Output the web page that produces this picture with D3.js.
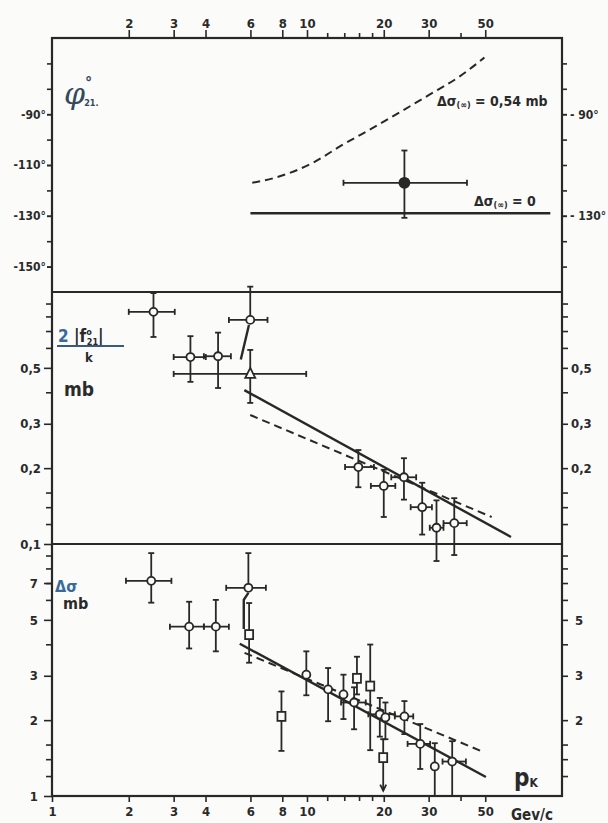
<!DOCTYPE html>
<html><head><meta charset="utf-8">
<script src="https://cdn.jsdelivr.net/npm/d3@7"></script>
<style>
html,body{margin:0;padding:0;background:#fbfbfa;}
svg{display:block;}
text{font-family:"DejaVu Sans Condensed","DejaVu Sans",sans-serif;fill:#2a2a2a;font-weight:bold;}
</style></head><body>
<svg id="c" width="608" height="823"></svg>
<script>
// ---------------- data ----------------
const xTopTicks = [2, 3, 4, 6, 8, 10, 20, 30, 50];
const xBottomTicks = [1, 2, 3, 4, 6, 8, 10, 20, 30, 50];
const xMinorTicks = [12, 14, 16, 18, 40];

const phiTicks = [-150, -130, -110, -90];
const phiRightTicks = [-130, -90];
const phiMinorTicks = [-150, -140, -130, -120, -110, -100, -90, -80, -70];

const midLeftTicks = [0.1, 0.2, 0.3, 0.5];
const midRightTicks = [0.2, 0.3, 0.5];
const midMinorTicks = [0.12, 0.14, 0.16, 0.4, 0.6, 0.7, 0.8, 0.9];

const botLeftTicks = [1, 2, 3, 5, 7];
const botRightTicks = [2, 3, 5];
const botMinorTicks = [1.2, 1.4, 1.6, 4, 6, 7, 8, 9];

// top panel: phase phi (degrees)
const phiDashedP = [6.1, 7.5, 10.6, 13.5, 18.4, 30, 39.6, 49.6];
const phiDashedV = [-117, -115, -109, -102.6, -95, -82.5, -75.2, -67.7];
const phiSolidP = [6, 90];
const phiSolidV = [-129, -129];
const phiPoints = [{p: 24.1, pLo: 13.9, pHi: 42.4, v: -117, vLo: -130.8, vHi: -104.3}];

// middle panel: 2|f21|/k (mb)
const midCircles = [
  {p: 2.50, pLo: 2.0, pHi: 3.03, v: 0.834, vLo: 0.663, vHi: 0.99},
  {p: 3.49, pLo: 3.0, pHi: 4.01, v: 0.552, vLo: 0.44, vHi: 0.668},
  {p: 4.48, pLo: 3.94, pHi: 5.03, v: 0.556, vLo: 0.416, vHi: 0.69},
  {p: 5.99, pLo: 4.94, pHi: 7.0, v: 0.775, vLo: null, vHi: 1.05},
  {p: 15.9, pLo: 14.1, pHi: 18.3, v: 0.202, vLo: 0.168, vHi: 0.236},
  {p: 20.0, pLo: 17.8, pHi: 22.2, v: 0.170, vLo: 0.128, vHi: 0.197},
  {p: 24.0, pLo: 21.4, pHi: 26.8, v: 0.184, vLo: 0.150, vHi: 0.219},
  {p: 28.3, pLo: 25.5, pHi: 30.9, v: 0.140, vLo: 0.109, vHi: 0.175},
  {p: 32.2, pLo: 30.3, pHi: 34.3, v: 0.116, vLo: 0.0856, vHi: 0.149},
  {p: 37.8, pLo: 34.3, pHi: 42.3, v: 0.121, vLo: 0.0904, vHi: 0.152}
];
const midTriangles = [{p: 5.99, pLo: 3.0, pHi: 9.93, v: 0.473, vLo: 0.363, vHi: 0.589}];
const midSolidP = [5.68, 63.1];
const midSolidV = [0.408, 0.1066];
const midDashedP = [5.99, 53.0];
const midDashedV = [0.325, 0.128];
const midSlantP = [5.92, 5.5];
const midSlantV = [0.74, 0.54];

// bottom panel: delta sigma (mb)
const botCircles = [
  {p: 2.45, pLo: 1.95, pHi: 2.94, v: 7.14, vLo: 5.85, vHi: 9.2},
  {p: 3.45, pLo: 2.90, pHi: 3.94, v: 4.70, vLo: 3.85, vHi: 5.9},
  {p: 4.39, pLo: 3.94, pHi: 4.94, v: 4.70, vLo: 3.75, vHi: 6.0},
  {p: 5.89, pLo: 4.82, pHi: 6.90, v: 6.70, vLo: null, vHi: 9.2},
  {p: 9.94, v: 3.03, vLo: 2.51, vHi: 3.75},
  {p: 12.1, v: 2.65, vLo: 1.98, vHi: 3.22},
  {p: 13.9, v: 2.53, vLo: 2.02, vHi: 3.03},
  {p: 15.3, pLo: 13.6, pHi: 17.0, v: 2.35, vLo: 1.84, vHi: 2.7},
  {p: 19.3, pLo: 17.4, pHi: 22.1, v: 2.11, vLo: 1.72, vHi: 2.45},
  {p: 20.3, v: 2.05, vLo: 1.68, vHi: 2.35},
  {p: 24.1, pLo: 22.1, pHi: 26.1, v: 2.07, vLo: 1.76, vHi: 2.38},
  {p: 27.8, pLo: 24.8, pHi: 30.4, v: 1.61, vLo: 1.28, vHi: 1.93},
  {p: 31.7, v: 1.31, vLo: 1.0, vHi: 1.62},
  {p: 37.1, pLo: 34.0, pHi: 42.0, v: 1.37, vLo: 1.0, vHi: 1.65}
];
const botSquares = [
  {p: 5.93, v: 4.37, vLo: 3.38, vHi: 5.83},
  {p: 7.94, v: 2.07, vLo: 1.51, vHi: 2.60},
  {p: 15.7, v: 2.93, vLo: 2.53, vHi: 3.57},
  {p: 17.7, v: 2.73, vLo: 1.52, vHi: 3.99},
  {p: 19.9, v: 1.42, vLo: 1.05, vHi: 1.68, arrow: true}
];
const botSolidP = [5.45, 50.3];
const botSolidV = [4.02, 1.19];
const botDashedP = [5.69, 49.6];
const botDashedV = [3.70, 1.49];
const botSlantP = [5.89, 5.65, 5.65];
const botSlantV = [6.4, 6.0, 4.6];

// ---------------- drawing ----------------
const INK = "#282828";
const BG = "#fbfbfa";
const svg = d3.select("#c");
const L = 52, R = 562, T = 38, M1 = 292, M2 = 544, B = 796;

const x = d3.scaleLog().domain([1, 100]).range([L, R]);
const yPhi = d3.scaleLinear().domain([-160, -60]).range([M1, T]);
const yMid = d3.scaleLog().domain([0.1, 1]).range([M2, M1]);
const yBot = d3.scaleLog().domain([1, 10]).range([B, M2]);

const comma = d => String(d).replace(".", ",");

function styleAxis(g, fs) {
  g.select(".domain").remove();
  g.selectAll("line").attr("stroke", INK).attr("stroke-width", 1.6);
  g.selectAll("text").attr("font-size", fs || 13).attr("fill", INK)
    .attr("font-family", '"DejaVu Sans Condensed","DejaVu Sans",sans-serif').attr("font-weight", "bold");
}

// x axes
svg.append("g").attr("transform", `translate(0,${T})`)
  .call(d3.axisTop(x).tickValues(xTopTicks).tickFormat(d3.format("d")).tickSize(8).tickPadding(2))
  .call(styleAxis, 13);
svg.append("g").attr("transform", `translate(0,${T})`)
  .call(d3.axisTop(x).tickValues(xMinorTicks).tickFormat("").tickSize(5)).call(styleAxis);
svg.append("g").attr("transform", `translate(0,${B})`)
  .call(d3.axisBottom(x).tickValues(xBottomTicks).tickFormat(d3.format("d")).tickSize(6).tickPadding(5))
  .call(styleAxis, 13);
svg.append("g").attr("transform", `translate(0,${B})`)
  .call(d3.axisBottom(x).tickValues(xMinorTicks).tickFormat("").tickSize(5)).call(styleAxis);

// y axes: top panel
svg.append("g").attr("transform", `translate(${L},0)`)
  .call(d3.axisLeft(yPhi).tickValues(phiMinorTicks).tickFormat("").tickSize(5)).call(styleAxis);
svg.append("g").attr("transform", `translate(${L},0)`)
  .call(d3.axisLeft(yPhi).tickValues(phiTicks).tickFormat(d => d + "°").tickSize(5).tickPadding(1))
  .call(styleAxis, 12);
svg.append("g").attr("transform", `translate(${R},0)`)
  .call(d3.axisRight(yPhi).tickValues(phiMinorTicks).tickFormat("").tickSize(5)).call(styleAxis);
svg.append("g").attr("transform", `translate(${R},0)`)
  .call(d3.axisRight(yPhi).tickValues(phiRightTicks).tickFormat(d => "- " + Math.abs(d) + "°").tickSize(5).tickPadding(3))
  .call(styleAxis, 12);

// middle panel
svg.append("g").attr("transform", `translate(${L},0)`)
  .call(d3.axisLeft(yMid).tickValues(midMinorTicks).tickFormat("").tickSize(6)).call(styleAxis);
svg.append("g").attr("transform", `translate(${L},0)`)
  .call(d3.axisLeft(yMid).tickValues(midLeftTicks).tickFormat(comma).tickSize(8).tickPadding(3))
  .call(styleAxis, 13);
svg.append("g").attr("transform", `translate(${R},0)`)
  .call(d3.axisRight(yMid).tickValues(midMinorTicks).tickFormat("").tickSize(6)).call(styleAxis);
svg.append("g").attr("transform", `translate(${R},0)`)
  .call(d3.axisRight(yMid).tickValues(midRightTicks).tickFormat(comma).tickSize(6).tickPadding(3))
  .call(styleAxis, 13);

// bottom panel
svg.append("g").attr("transform", `translate(${L},0)`)
  .call(d3.axisLeft(yBot).tickValues(botMinorTicks).tickFormat("").tickSize(6)).call(styleAxis);
svg.append("g").attr("transform", `translate(${L},0)`)
  .call(d3.axisLeft(yBot).tickValues(botLeftTicks).tickFormat(d3.format("d")).tickSize(8).tickPadding(6))
  .call(styleAxis, 13);
svg.append("g").attr("transform", `translate(${R},0)`)
  .call(d3.axisRight(yBot).tickValues(botMinorTicks).tickFormat("").tickSize(6)).call(styleAxis);
svg.append("g").attr("transform", `translate(${R},0)`)
  .call(d3.axisRight(yBot).tickValues(botRightTicks).tickFormat(d3.format("d")).tickSize(6).tickPadding(7))
  .call(styleAxis, 13);

// frame and dividers
svg.append("rect").attr("x", L).attr("y", T).attr("width", R - L).attr("height", B - T)
  .attr("fill", "none").attr("stroke", INK).attr("stroke-width", 2.2);
[M1, M2].forEach(yy => svg.append("line").attr("x1", L).attr("x2", R).attr("y1", yy).attr("y2", yy)
  .attr("stroke", INK).attr("stroke-width", 2.2));

// lines
function drawLine(P, V, ys, dashed, curve) {
  const gen = d3.line().x(d => x(d[0])).y(d => ys(d[1])).curve(curve || d3.curveLinear);
  svg.append("path").datum(P.map((p, i) => [p, V[i]])).attr("d", gen)
    .attr("fill", "none").attr("stroke", INK).attr("stroke-width", dashed ? 2 : 2.4)
    .attr("stroke-dasharray", dashed ? "8,5" : null);
}
drawLine(phiDashedP, phiDashedV, yPhi, true, d3.curveMonotoneX);
drawLine(phiSolidP, phiSolidV, yPhi, false);
drawLine(midSolidP, midSolidV, yMid, false);
drawLine(midDashedP, midDashedV, yMid, true);
drawLine(midSlantP, midSlantV, yMid, false);
drawLine(botSolidP, botSolidV, yBot, false);
drawLine(botDashedP, botDashedV, yBot, true);
drawLine(botSlantP, botSlantV, yBot, false);

// error bars & markers
function errorBars(data, ys) {
  const g = svg.append("g").attr("stroke", INK).attr("stroke-width", 1.8);
  data.forEach(d => {
    const cx = x(d.p), cy = ys(d.v);
    if (d.vHi != null) {
      g.append("line").attr("x1", cx).attr("x2", cx).attr("y1", cy).attr("y2", ys(d.vHi));
      g.append("line").attr("x1", cx - 3).attr("x2", cx + 3).attr("y1", ys(d.vHi)).attr("y2", ys(d.vHi));
    }
    if (d.vLo != null) {
      g.append("line").attr("x1", cx).attr("x2", cx).attr("y1", cy).attr("y2", ys(d.vLo));
      if (!d.arrow) g.append("line").attr("x1", cx - 3).attr("x2", cx + 3).attr("y1", ys(d.vLo)).attr("y2", ys(d.vLo));
      else g.append("path").attr("d", `M${cx - 3},${ys(d.vLo) - 6}L${cx},${ys(d.vLo)}L${cx + 3},${ys(d.vLo) - 6}`).attr("fill", "none");
    }
    if (d.pLo != null) {
      g.append("line").attr("x1", x(d.pLo)).attr("x2", x(d.pHi)).attr("y1", cy).attr("y2", cy);
      [d.pLo, d.pHi].forEach(pp => g.append("line").attr("x1", x(pp)).attr("x2", x(pp)).attr("y1", cy - 3).attr("y2", cy + 3));
    }
  });
}
function circles(data, ys, filled, r) {
  svg.append("g").selectAll("circle").data(data).join("circle")
    .attr("cx", d => x(d.p)).attr("cy", d => ys(d.v)).attr("r", r || 4)
    .attr("fill", filled ? INK : BG).attr("stroke", INK).attr("stroke-width", 1.8);
}
function squares(data, ys) {
  svg.append("g").selectAll("rect").data(data).join("rect")
    .attr("x", d => x(d.p) - 4).attr("y", d => ys(d.v) - 4.5).attr("width", 8).attr("height", 9)
    .attr("fill", BG).attr("stroke", INK).attr("stroke-width", 1.8);
}
function triangles(data, ys) {
  svg.append("g").selectAll("path").data(data).join("path")
    .attr("d", d => { const cx = x(d.p), cy = ys(d.v); return `M${cx},${cy - 6}L${cx + 5},${cy + 4}L${cx - 5},${cy + 4}Z`; })
    .attr("fill", BG).attr("stroke", INK).attr("stroke-width", 1.8);
}

errorBars(phiPoints, yPhi); circles(phiPoints, yPhi, true, 5);
errorBars(midTriangles, yMid); errorBars(midCircles, yMid);
triangles(midTriangles, yMid); circles(midCircles, yMid, false, 4);
errorBars(botSquares, yBot); errorBars(botCircles, yBot);
squares(botSquares, yBot); circles(botCircles, yBot, false, 4);

// ---------------- texts ----------------
const BLUE = "#34485c";
// top panel label: phi°21.
const phiLab = svg.append("text").attr("x", 64).attr("y", 104).attr("fill", BLUE);
phiLab.append("tspan").attr("font-size", 30).attr("font-style", "italic").attr("font-weight", "normal")
  .attr("font-family", "DejaVu Serif").attr("fill", BLUE).text("φ");
phiLab.append("tspan").attr("font-size", 16).attr("dy", -16).attr("fill", BLUE).text("°");
phiLab.append("tspan").attr("font-size", 9).attr("dx", -8).attr("dy", 18).attr("fill", BLUE).text("21.");

// curve labels
const lab1 = svg.append("text").attr("x", 437).attr("y", 106).attr("font-size", 14);
lab1.append("tspan").text("Δσ");
lab1.append("tspan").attr("font-size", 9).attr("dy", 2).text("(∞)");
lab1.append("tspan").attr("dy", -2).text(" = 0,54 mb");
const lab2 = svg.append("text").attr("x", 474).attr("y", 206).attr("font-size", 14);
lab2.append("tspan").text("Δσ");
lab2.append("tspan").attr("font-size", 9).attr("dy", 2).text("(∞)");
lab2.append("tspan").attr("dy", -2).text(" = 0");

// middle panel label
const f = svg.append("text").attr("x", 58).attr("y", 342).attr("font-size", 17);
f.append("tspan").attr("fill", "#3a6a9a").text("2 ");
f.append("tspan").text("|f");
f.append("tspan").attr("font-size", 9).attr("dy", -7).text("o");
f.append("tspan").attr("font-size", 9).attr("dx", -5).attr("dy", 10).text("21");
f.append("tspan").attr("dy", -3).text("|");
svg.append("line").attr("x1", 57).attr("x2", 124).attr("y1", 346).attr("y2", 346)
  .attr("stroke", "#3a5a7a").attr("stroke-width", 1.8);
svg.append("text").attr("x", 85).attr("y", 362).attr("font-size", 13).text("k");
svg.append("text").attr("x", 64).attr("y", 396).attr("font-size", 19).text("mb");

// bottom panel label (one stacked text element)
const ds = svg.append("text").attr("x", 55).attr("y", 592).attr("font-size", 16);
ds.append("tspan").attr("fill", "#3a6a9a").text("Δσ");
ds.append("tspan").attr("x", 63).attr("dy", 17).text("mb");

// axis title
const pk = svg.append("text").attr("x", 514).attr("y", 786).attr("font-size", 24).attr("font-weight", "normal");
pk.append("tspan").text("p");
pk.append("tspan").attr("font-size", 12).attr("dy", 1).text("K");
svg.append("text").attr("x", 511).attr("y", 820).attr("font-size", 15).text("Gev/c");
</script>
</body></html>
